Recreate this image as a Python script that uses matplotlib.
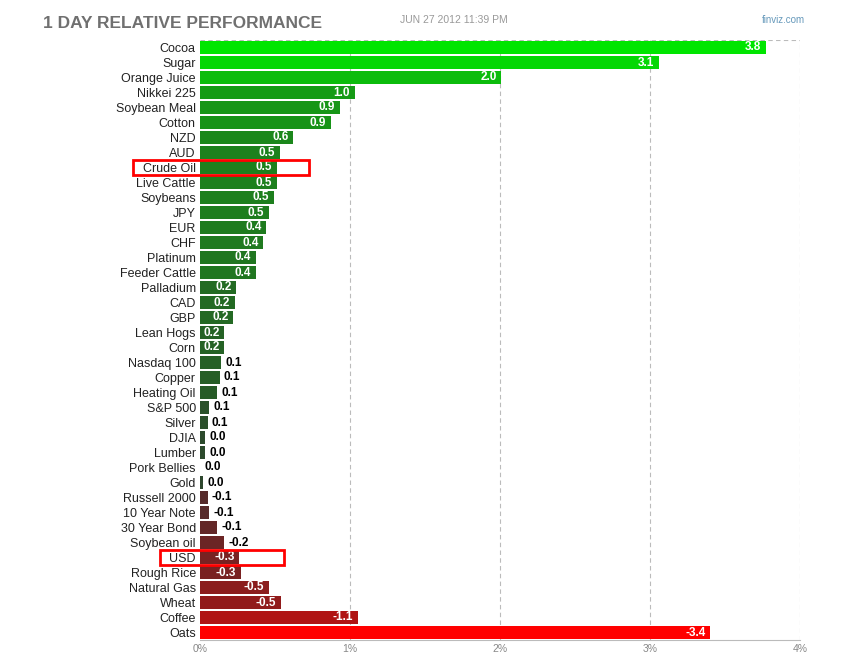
import matplotlib
matplotlib.use("Agg")
import matplotlib.pyplot as plt
from matplotlib.patches import Rectangle
import numpy as np

plt.rcParams["font.family"] = ["Liberation Sans", "DejaVu Sans"]

NAMES = ["Cocoa", "Sugar", "Orange Juice", "Nikkei 225", "Soybean Meal", "Cotton", "NZD", "AUD",
         "Crude Oil", "Live Cattle", "Soybeans", "JPY", "EUR", "CHF", "Platinum", "Feeder Cattle",
         "Palladium", "CAD", "GBP", "Lean Hogs", "Corn", "Nasdaq 100", "Copper", "Heating Oil",
         "S&P 500", "Silver", "DJIA", "Lumber", "Pork Bellies", "Gold", "Russell 2000",
         "10 Year Note", "30 Year Bond", "Soybean oil", "USD", "Rough Rice", "Natural Gas",
         "Wheat", "Coffee", "Oats"]
VALUES = [3.77, 3.06, 2.01, 1.03, 0.93, 0.87, 0.62, 0.53, 0.51, 0.51, 0.49, 0.46, 0.44, 0.42,
          0.37, 0.37, 0.24, 0.23, 0.22, 0.16, 0.16, 0.14, 0.13, 0.11, 0.06, 0.05, 0.03, 0.03,
          0.0, 0.02, -0.05, -0.06, -0.11, -0.16, -0.26, -0.27, -0.46, -0.54, -1.05, -3.40]
# highlight boxes: (name, left, right) in percent units
HIGHLIGHT = [("Crude Oil", -0.447, 0.727), ("USD", -0.267, 0.56)]

fig = plt.figure(figsize=(8.5, 6.7), dpi=100)
ax = fig.add_axes([200 / 850, 30 / 670, 600 / 850, 600 / 670])

vals = np.array(VALUES)
n = len(vals)
ypos = np.arange(n)
base = np.array([0.2, 0.2, 0.2])
green = np.array([0.0, 0.9, 0.0])
red = np.array([1.0, 0.0, 0.0])
pmax = vals.max()
nmax = -vals.min()
colors = []
for v in vals:
    if v >= 0:
        t = (v / pmax) ** 0.42
        colors.append(base + (green - base) * t)
    else:
        t = (-v / nmax) ** 0.42
        colors.append(base + (red - base) * t)

ax.barh(ypos, np.abs(vals), height=0.88, color=colors, zorder=3)
for y, v in zip(ypos, vals):
    w = abs(v)
    label = f"{v:.1f}"
    if label == "-0.0":
        label = "0.0"
    thr = 0.145 if v >= 0 else 0.2
    if w > thr:
        ax.text(w - 0.03, y, label, ha="right", va="center", color="white",
                fontsize=8.5, fontweight="bold", zorder=4)
    else:
        ax.text(w + 0.03, y, label, ha="left", va="center", color="black",
                fontsize=8.5, fontweight="bold", zorder=4)

ax.set_xlim(0, 4)
ax.set_ylim(n - 0.5, -0.5)
ax.set_yticks(ypos)
ax.set_yticklabels(NAMES, fontsize=9, color="#222222")
ax.set_xticks([0, 1, 2, 3, 4])
ax.set_xticklabels(["0%", "1%", "2%", "3%", "4%"], fontsize=7.5, color="#888888")
ax.tick_params(length=0, pad=3)
for x in [1, 2, 3, 4]:
    ax.axvline(x, color="#bbbbbb", linestyle=(0, (4, 3)), linewidth=0.8, zorder=1)
ax.axhline(-0.5, color="#bbbbbb", linestyle=(0, (4, 3)), linewidth=0.8, zorder=1)
for s in ["top", "right", "left"]:
    ax.spines[s].set_visible(False)
ax.spines["bottom"].set_color("#bbbbbb")

for name, left, right in HIGHLIGHT:
    i = NAMES.index(name)
    ax.add_patch(Rectangle((left, i - 0.5), right - left, 1.0, fill=False,
                           edgecolor="red", linewidth=2, clip_on=False, zorder=5))

fig.text(43 / 850, 1 - 23 / 670, "1 DAY RELATIVE PERFORMANCE", fontsize=12.5, fontweight="bold",
         color="#707070", va="center")
fig.text(400 / 850, 1 - 20 / 670, "JUN 27 2012 11:39 PM", fontsize=7.5, color="#999999", va="center")
fig.text(805 / 850, 1 - 20 / 670, "finviz.com", fontsize=7, color="#6699bb", va="center", ha="right")

fig.savefig("out.png", dpi=100, facecolor="white")
